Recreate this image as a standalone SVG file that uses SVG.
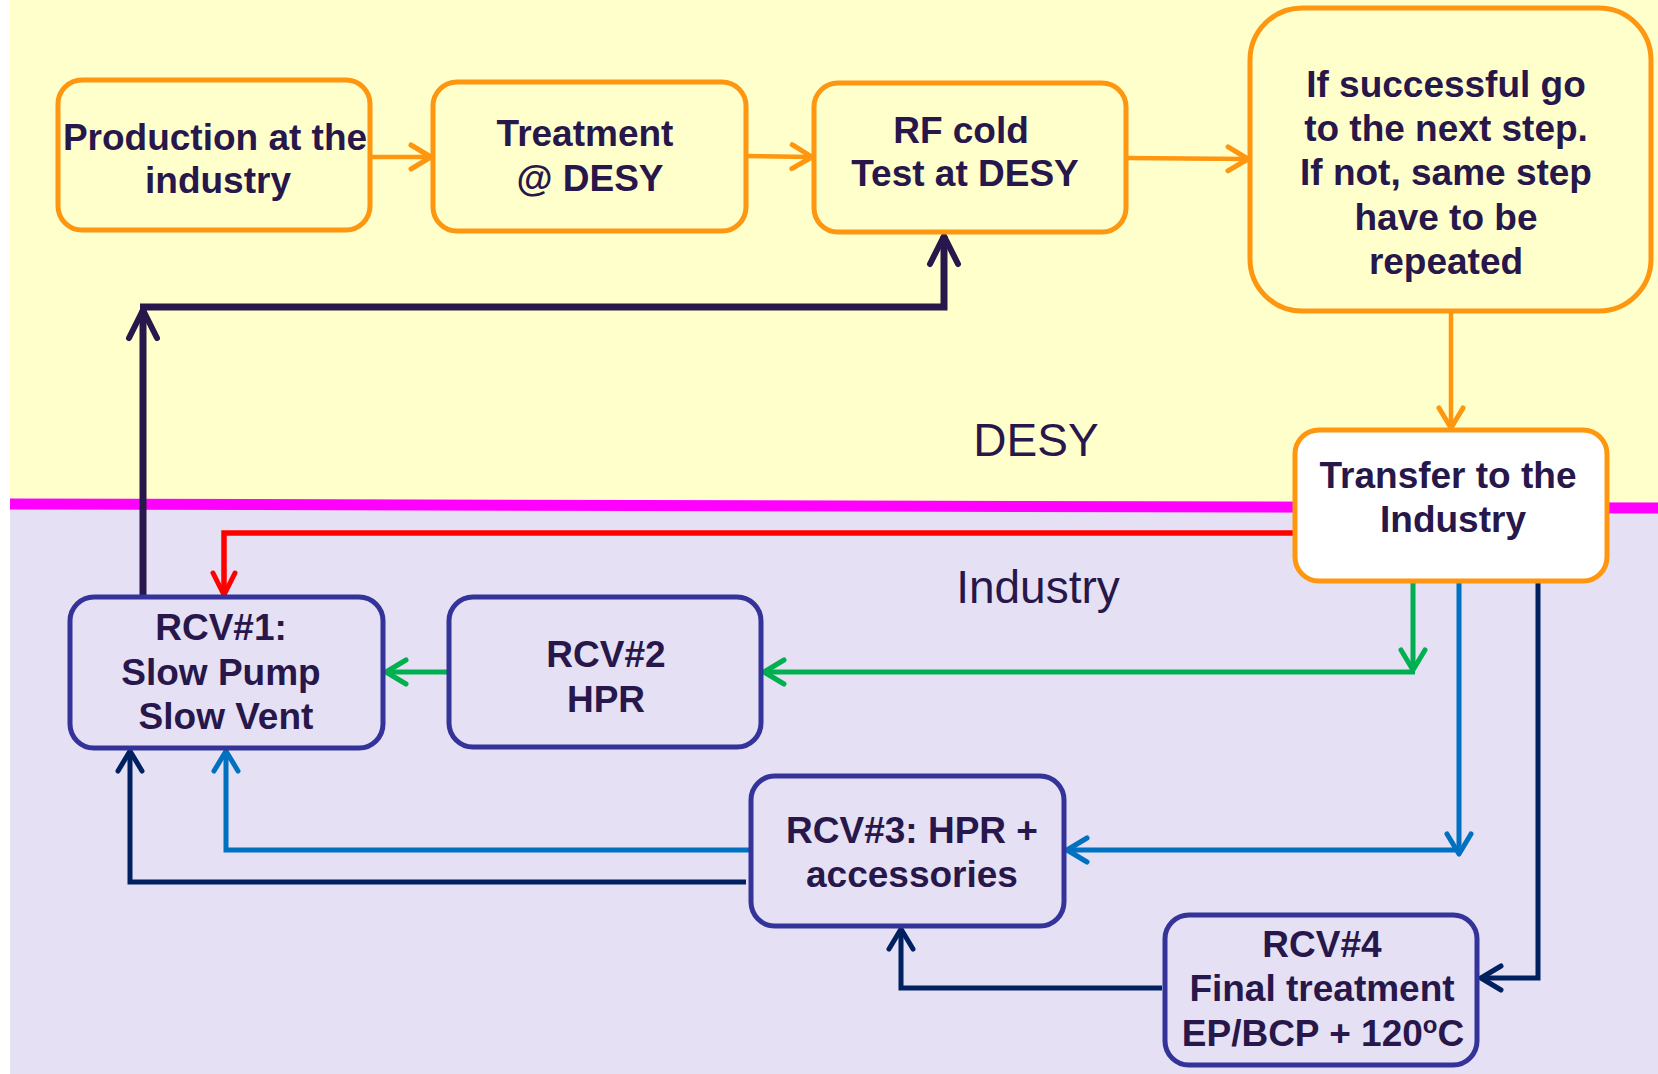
<svg xmlns="http://www.w3.org/2000/svg" width="1658" height="1074" viewBox="0 0 1658 1074">
<style>
.t{font-family:"Liberation Sans",Arial,sans-serif;font-weight:bold;font-size:37px;fill:#27174A;text-anchor:middle}
.lbl{font-family:"Liberation Sans",Arial,sans-serif;font-size:46px;fill:#27174A;text-anchor:middle}
.ob{fill:none;stroke:#FF960F;stroke-width:5}
.pb{fill:none;stroke:#333399;stroke-width:5}
.c{fill:none;stroke-linejoin:miter}
</style>
<defs>
<marker id="aO" markerUnits="userSpaceOnUse" markerWidth="40" markerHeight="40" viewBox="-30 -20 40 40" refX="0" refY="0" orient="auto"><path d="M-20,-12 L0,0 L-20,12" fill="none" stroke="#FF960F" stroke-width="5" stroke-linecap="round" stroke-linejoin="round"/></marker>
<marker id="aR" markerUnits="userSpaceOnUse" markerWidth="40" markerHeight="40" viewBox="-30 -20 40 40" refX="0" refY="0" orient="auto"><path d="M-22,-11 L0,0 L-22,11" fill="none" stroke="#FF0000" stroke-width="5" stroke-linecap="round" stroke-linejoin="round"/></marker>
<marker id="aG" markerUnits="userSpaceOnUse" markerWidth="40" markerHeight="40" viewBox="-30 -20 40 40" refX="0" refY="0" orient="auto"><path d="M-20,-12 L0,0 L-20,12" fill="none" stroke="#00B050" stroke-width="5" stroke-linecap="round" stroke-linejoin="round"/></marker>
<marker id="aB" markerUnits="userSpaceOnUse" markerWidth="40" markerHeight="40" viewBox="-30 -20 40 40" refX="0" refY="0" orient="auto"><path d="M-20,-12 L0,0 L-20,12" fill="none" stroke="#0070C0" stroke-width="5" stroke-linecap="round" stroke-linejoin="round"/></marker>
<marker id="aN" markerUnits="userSpaceOnUse" markerWidth="40" markerHeight="40" viewBox="-30 -20 40 40" refX="0" refY="0" orient="auto"><path d="M-20,-12 L0,0 L-20,12" fill="none" stroke="#002060" stroke-width="5" stroke-linecap="round" stroke-linejoin="round"/></marker>
<marker id="aD" markerUnits="userSpaceOnUse" markerWidth="50" markerHeight="50" viewBox="-40 -25 50 50" refX="0" refY="0" orient="auto"><path d="M-28,-14 L0,0 L-28,14" fill="none" stroke="#27174A" stroke-width="6" stroke-linecap="round" stroke-linejoin="round"/></marker>
</defs>

<rect x="0" y="0" width="1658" height="1074" fill="#FFFFFF"/>
<rect x="10" y="0" width="1648" height="504" fill="#FFFFCC"/>
<rect x="10" y="504" width="1648" height="570" fill="#E5E0F3"/>
<path d="M10,504 L1658,508" stroke="#FF00FF" stroke-width="11" fill="none"/>
<text class="lbl" x="1036" y="456">DESY</text>
<text class="lbl" x="1038" y="603">Industry</text>

<g id="connectors">
<path class="c" d="M370,157 L431,157" stroke="#FF960F" stroke-width="4.5" marker-end="url(#aO)"/>
<path class="c" d="M746,156 L812,157" stroke="#FF960F" stroke-width="4.5" marker-end="url(#aO)"/>
<path class="c" d="M1126,158 L1248,159" stroke="#FF960F" stroke-width="4.5" marker-end="url(#aO)"/>
<path class="c" d="M1451,312 L1451,428" stroke="#FF960F" stroke-width="4.5" marker-end="url(#aO)"/>
<path class="c" d="M143,598 L143,310" stroke="#27174A" stroke-width="7" marker-end="url(#aD)"/>
<path class="c" d="M140,307 L944,307 L944,236" stroke="#27174A" stroke-width="7" marker-end="url(#aD)"/>
<path class="c" d="M1295,533 L224,533 L224,595" stroke="#FF0000" stroke-width="5.5" marker-end="url(#aR)"/>
<path class="c" d="M1413,582 L1413,670" stroke="#00B050" stroke-width="5" marker-end="url(#aG)"/>
<path class="c" d="M1415,672 L764,672" stroke="#00B050" stroke-width="5" marker-end="url(#aG)"/>
<path class="c" d="M449,672 L386,672" stroke="#00B050" stroke-width="5" marker-end="url(#aG)"/>
<path class="c" d="M1459,582 L1459,854" stroke="#0070C0" stroke-width="5" marker-end="url(#aB)"/>
<path class="c" d="M1461,850 L1067,850" stroke="#0070C0" stroke-width="5" marker-end="url(#aB)"/>
<path class="c" d="M750,850 L226,850 L226,751" stroke="#0070C0" stroke-width="5" marker-end="url(#aB)"/>
<path class="c" d="M1538,582 L1538,978 L1481,978" stroke="#002060" stroke-width="5" marker-end="url(#aN)"/>
<path class="c" d="M746,882 L130,882 L130,751" stroke="#002060" stroke-width="5" marker-end="url(#aN)"/>
<path class="c" d="M1162,988 L901,988 L901,929" stroke="#002060" stroke-width="5" marker-end="url(#aN)"/>
</g>

<g id="production">
<rect class="ob" x="58" y="80" width="312" height="150" rx="24"/>
<text class="t" x="215" y="150">Production at the</text>
<text class="t" x="218" y="193">industry</text>
</g>
<g id="treatment">
<rect class="ob" x="433" y="82" width="313" height="149" rx="24"/>
<text class="t" x="585" y="146">Treatment</text>
<text class="t" x="590" y="191">@ DESY</text>
</g>
<g id="rfcold">
<rect class="ob" x="814" y="83" width="312" height="149" rx="24"/>
<text class="t" x="961" y="143">RF cold</text>
<text class="t" x="965" y="186">Test at DESY</text>
</g>
<g id="decision">
<rect class="ob" x="1250" y="8" width="401" height="303" rx="52"/>
<text class="t" x="1446" y="97">If successful go</text>
<text class="t" x="1446" y="141">to the next step.</text>
<text class="t" x="1446" y="185">If not, same step</text>
<text class="t" x="1446" y="230">have to be</text>
<text class="t" x="1446" y="274">repeated</text>
</g>
<g id="transfer">
<rect x="1295" y="430" width="312" height="151" rx="24" fill="#FFFFFF" stroke="#FF960F" stroke-width="5"/>
<text class="t" x="1448" y="488">Transfer to the</text>
<text class="t" x="1453" y="532">Industry</text>
</g>
<g id="rcv1">
<rect class="pb" x="70" y="597" width="313" height="151" rx="24"/>
<text class="t" x="221" y="640">RCV#1:</text>
<text class="t" x="221" y="685">Slow Pump</text>
<text class="t" x="226" y="729">Slow Vent</text>
</g>
<g id="rcv2">
<rect class="pb" x="449" y="597" width="312" height="150" rx="24"/>
<text class="t" x="606" y="667">RCV#2</text>
<text class="t" x="606" y="712">HPR</text>
</g>
<g id="rcv3">
<rect class="pb" x="751" y="776" width="313" height="150" rx="24"/>
<text class="t" x="912" y="843">RCV#3: HPR +</text>
<text class="t" x="912" y="887">accessories</text>
</g>
<g id="rcv4">
<rect class="pb" x="1165" y="915" width="312" height="150" rx="24"/>
<text class="t" x="1322" y="957">RCV#4</text>
<text class="t" x="1322" y="1001">Final treatment</text>
<text class="t" x="1323" y="1046">EP/BCP + 120<tspan font-size="24" dy="-13">o</tspan><tspan dy="13">C</tspan></text>
</g>
</svg>
